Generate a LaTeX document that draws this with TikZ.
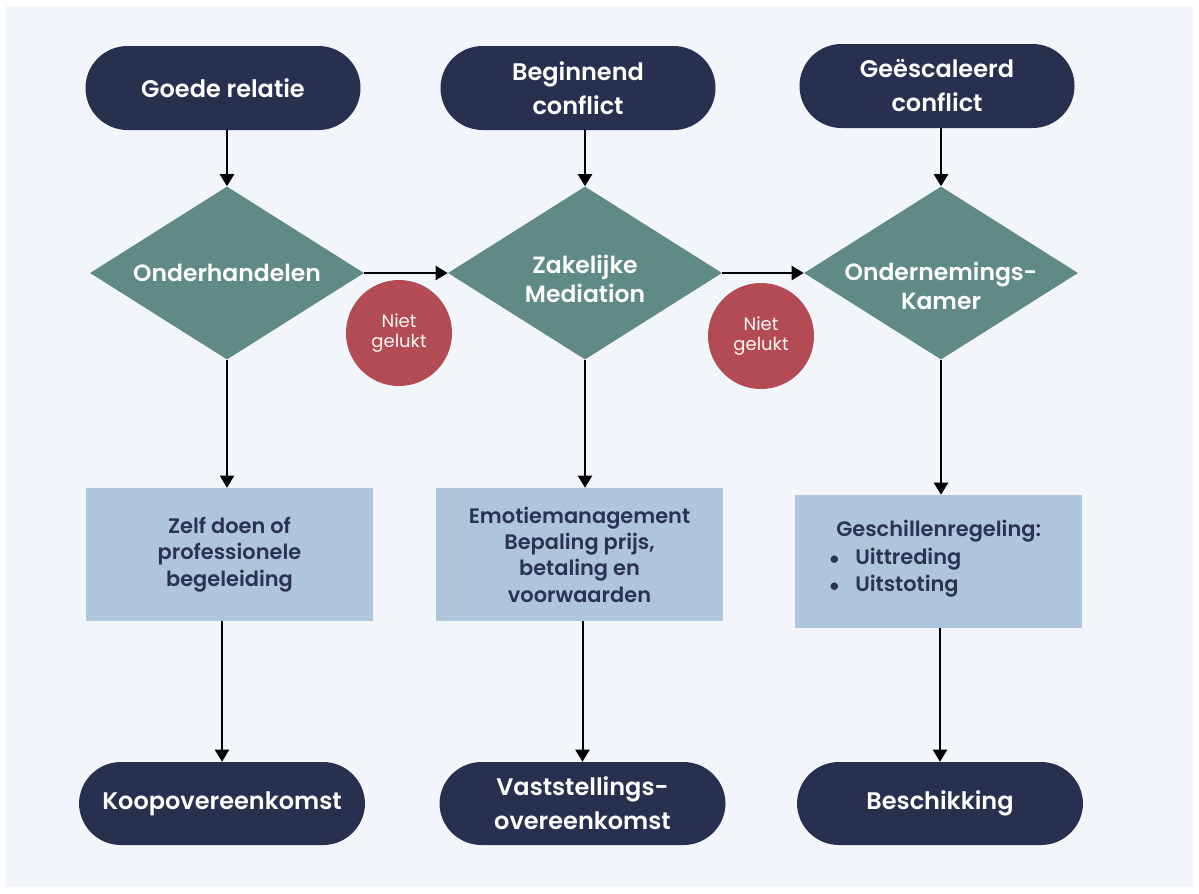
\documentclass[tikz,border=0pt]{standalone}
\usepackage{fontspec}
\setmainfont{Poppins}[UprightFont=* Medium, BoldFont=* SemiBold]
\newfontfamily\regfont{Poppins}
\usetikzlibrary{shapes.geometric,arrows.meta}
\definecolor{navy}{HTML}{27314F}
\definecolor{teal}{HTML}{5F8A87}
\definecolor{redc}{HTML}{B34B54}
\definecolor{boxc}{HTML}{AFC5DB}
\definecolor{bgc}{HTML}{F2F5FA}
\definecolor{boxtext}{HTML}{2A3353}
\tikzset{
  term/.style={rectangle, rounded corners=31.5pt, fill=navy, text=white, inner sep=0pt,
    minimum width=206.25pt, minimum height=63pt, align=center, font=\fontsize{18}{25.5}\selectfont\bfseries},
  dia/.style={diamond, fill=teal, inner sep=0pt, minimum width=205.5pt,
    minimum height=129.75pt},
  diatext/.style={align=center, text=white, font=\fontsize{17.6}{22}\selectfont\bfseries},
  infobox/.style={rectangle, fill=boxc, text=boxtext, inner sep=0pt, minimum width=215.25pt,
    minimum height=99.75pt, align=center, font=\fontsize{15.7}{19.8}\selectfont\bfseries},
  fail/.style={circle, fill=redc, text=white!95!redc, inner sep=0pt, minimum size=79.5pt,
    align=center, font=\fontsize{13.5}{15.5}\selectfont\regfont},
  conn/.style={line width=1.5pt, -{Triangle[width=10.5pt,length=9pt]}}
}
\begin{document}
\begin{tikzpicture}[x=0.75pt,y=-0.75pt]
\fill[white] (0,0) rectangle (1199,893);
\fill[bgc] (6,6) rectangle (1193,887);
% top terminals
\node[term] (t1) at (223,88) {Goede relatie};
\node[term] (t2) at (578,88) {Beginnend\\conflict};
\node[term] (t3) at (937,86) {Geëscaleerd\\conflict};
% diamonds
\node[dia, label={[diatext]center:Onderhandelen}] (d1) at (227,273) {};
\node[dia, label={[diatext, yshift=-4.5pt]center:Zakelijke\\Mediation}] (d2) at (585,273) {};
\node[dia, label={[diatext, yshift=-9.5pt]center:Ondernemings-\\Kamer}] (d3) at (941,273) {};
% failure circles
\node[fail] (f1) at (399,333) {Niet\\gelukt};
\node[fail] (f2) at (761,336) {Niet\\gelukt};
% boxes
\node[infobox] (b1) at (229.5,554.5) {Zelf doen of\\professionele\\begeleiding};
\node[infobox] (b2) at (579.5,554.5) {Emotiemanagement\\Bepaling prijs,\\betaling en\\voorwaarden};
\node[infobox, label={[align=left, text=boxtext, font=\fontsize{15.7}{20.5}\selectfont\bfseries, anchor=north west, inner sep=0pt, xshift=26pt, yshift=-19pt]north west:{\hspace*{5pt}Geschillenregeling:\\{\Large$\bullet$}\hspace{12pt}Uittreding\\{\Large$\bullet$}\hspace{12pt}Uitstoting}}] (b3) at (938.5,561.5) {};
% bottom terminals
\node[term, minimum width=214.5pt, minimum height=62.25pt] (t4) at (222,803.5) {Koopovereenkomst};
\node[term, minimum width=214.5pt, minimum height=62.25pt] (t5) at (582.5,803.5) {Vaststellings-\\overeenkomst};
\node[term, minimum width=214.5pt, minimum height=62.25pt] (t6) at (940,803.5) {Beschikking};
% connectors
\draw[conn] (t1.south -| d1.north) -- (d1.north);
\draw[conn] (t2.south -| d2.north) -- (d2.north);
\draw[conn] (t3.south -| d3.north) -- (d3.north);
\draw[conn] (d1.east) -- (d2.west);
\draw[conn] (d2.east) -- (d3.west);
\draw[conn] (d1.south) -- (d1.south |- b1.north);
\draw[conn] (d2.south) -- (d2.south |- b2.north);
\draw[conn] (d3.south) -- (d3.south |- b3.north);
\draw[conn] (b1.south -| t4.north) -- (t4.north);
\draw[conn] (b2.south -| t5.north) -- (t5.north);
\draw[conn] (b3.south -| t6.north) -- (t6.north);
\end{tikzpicture}
\end{document}
